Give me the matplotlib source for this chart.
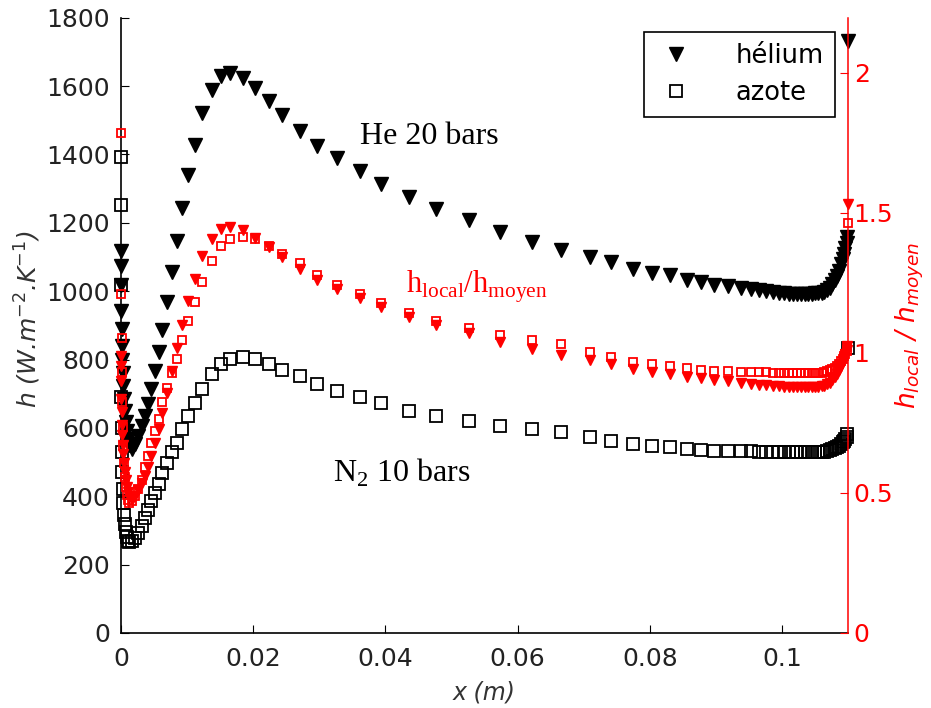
import numpy as np
import matplotlib.pyplot as plt

# position along the wall (m), shared mesh for both gases
x_m = [0, 0.00001, 0.00003, 0.00006, 0.0001, 0.00015, 0.0002, 0.00027, 0.00035, 0.00045,
       0.00057, 0.0007, 0.00085, 0.001, 0.0012, 0.0016, 0.0021, 0.0026, 0.0031, 0.0036,
       0.0041, 0.0046, 0.0052, 0.0057, 0.0062, 0.0069, 0.0077, 0.0084, 0.0092, 0.0102,
       0.0112, 0.0123, 0.0138, 0.0151, 0.0165, 0.0184, 0.0203, 0.0224, 0.0244, 0.0270,
       0.0296, 0.0326, 0.0361, 0.0393, 0.0435, 0.0477, 0.0526, 0.0574, 0.0622, 0.0666,
       0.0709, 0.0742, 0.0775, 0.0804, 0.0831, 0.0856, 0.0877, 0.0897, 0.0918, 0.0938,
       0.0953, 0.0965, 0.0976, 0.0986, 0.0995, 0.1003, 0.1010, 0.1017, 0.1023, 0.1029,
       0.1035, 0.1040, 0.1045, 0.1050, 0.1055, 0.1060, 0.1064, 0.1068, 0.1072, 0.1076,
       0.1080, 0.1083, 0.1086, 0.1089, 0.1092, 0.1094, 0.1096, 0.1098, 0.1099, 0.1100]

# helium, 20 bars  (W.m-2.K-1)
h_helium = [1116, 1075, 1017, 943, 890, 840, 800, 760, 723, 685,
            650, 618, 590, 568, 550, 537, 552, 576, 606, 635,
            669, 713, 767, 822, 887, 969, 1057, 1148, 1242, 1339,
            1427, 1521, 1588, 1629, 1638, 1624, 1594, 1556, 1515, 1468,
            1424, 1389, 1352, 1313, 1276, 1241, 1208, 1174, 1144, 1120,
            1101, 1085, 1066, 1054, 1046, 1034, 1027, 1019, 1015, 1009,
            1005, 1002, 999, 997, 995, 994, 993, 993, 993, 993,
            993, 993, 993, 994, 994, 995, 998, 1003, 1010, 1020,
            1032, 1045, 1060, 1078, 1095, 1110, 1125, 1140, 1157, 1732]

# nitrogen, 10 bars
h_azote = [1393, 1252, 1017, 690, 600, 530, 470, 420, 380, 345,
           318, 296, 280, 270, 265, 268, 278, 293, 312, 337,
           361, 386, 410, 435, 469, 498, 528, 557, 596, 635,
           674, 713, 757, 787, 801, 806, 801, 787, 770, 752,
           728, 708, 689, 672, 650, 635, 620, 606, 596, 588,
           572, 562, 552, 547, 544, 539, 535, 533, 532, 531,
           531, 530, 530, 529, 529, 528, 528, 528, 528, 528,
           528, 528, 528, 528, 528, 529, 530, 532, 534, 537,
           540, 544, 548, 553, 558, 563, 568, 574, 581, 834]

# mean coefficients used for the local/mean ratio
h_moyen_helium = 1130
h_moyen_azote = 570

RATIO_MAX = 2.196

x = np.array(x_m)
he = np.array(h_helium, dtype=float)
n2 = np.array(h_azote, dtype=float)
r_he = he / h_moyen_helium
r_n2 = n2 / h_moyen_azote
# points above the ratio axis are not drawn (like matlab does)
r_he[r_he > RATIO_MAX] = np.nan
r_n2[r_n2 > RATIO_MAX] = np.nan

plt.rcParams['font.family'] = ['DejaVu Sans']

fig = plt.figure(figsize=(9.31, 7.08), dpi=100)
ax = fig.add_axes([0.13, 0.106, 0.781, 0.869])
ax2 = ax.twinx()

ax.plot(x, he, 'v', color='black', ms=9.5, label='hélium', clip_on=False)
ax.plot(x, n2, 's', color='black', mfc='none', ms=8.5, mew=1.3, label='azote', clip_on=False)

ax2.plot(x, r_he, 'v', color='red', ms=6.5, clip_on=False)
ax2.plot(x, r_n2, 's', color='red', mfc='none', ms=6, mew=1.3, clip_on=False)

ax.set_xlim(0, 0.11)
ax.set_ylim(0, 1800)
ax2.set_ylim(0, RATIO_MAX)
ax.set_xticks([0, 0.02, 0.04, 0.06, 0.08, 0.1])
ax.set_xticklabels(['0', '0.02', '0.04', '0.06', '0.08', '0.1'])
ax.set_yticks(range(0, 1801, 200))
ax2.set_yticks([0, 0.5, 1, 1.5, 2])
ax2.set_yticklabels(['0', '0.5', '1', '1.5', '2'])

for a in (ax, ax2):
    a.spines['top'].set_visible(False)
ax.spines['right'].set_visible(False)
ax2.spines['left'].set_visible(False)
ax2.spines['bottom'].set_visible(False)
ax2.spines['right'].set_color('red')
ax.spines['left'].set_linewidth(1.2)
ax.spines['bottom'].set_linewidth(1.2)
ax2.spines['right'].set_linewidth(1.1)

ax.tick_params(direction='in', length=6, labelsize=18, labelcolor='#222222')
ax.tick_params(axis='y', pad=8)
ax.tick_params(axis='x', pad=10)
ax2.tick_params(direction='in', length=6, labelsize=18, colors='red', pad=4)

ax.set_xlabel('x (m)', fontsize=17, style='italic', color='#333333')
ax.xaxis.set_label_coords(0.5, -0.077)
ax.set_ylabel('h (W.m$^{-2}$.K$^{-1}$)', fontsize=18, style='italic', color='#333333')
ax.yaxis.set_label_coords(-0.107, 0.51)
ax2.set_ylabel(r'h$_{\mathregular{local}}$ / h$_{\mathregular{moyen}}$', fontsize=19,
               style='italic', color='red')
ax2.yaxis.set_label_coords(1.062, 0.5)

serif = ['Liberation Serif', 'DejaVu Serif']
ax.text(0.0362, 1452, 'He 20 bars', family=serif, fontsize=23, va='center')
ax.text(0.0431, 1012, r'h$_{\mathregular{local}}$/h$_{\mathregular{moyen}}$',
        family=serif, fontsize=22, color='red', va='center')
ax.text(0.0321, 470, r'N$_{\mathregular{2}}$ 10 bars', family=serif, fontsize=23, va='center')

leg = ax.legend(loc='upper right', bbox_to_anchor=(0.982, 0.977), fontsize=18.5,
                fancybox=False, framealpha=1, edgecolor='black', handlelength=1.6,
                handletextpad=1.5, borderpad=0.45, labelspacing=0.4, borderaxespad=0)
leg.get_frame().set_linewidth(1.2)
leg.set_zorder(5)

fig.savefig('out.png', dpi=100)
